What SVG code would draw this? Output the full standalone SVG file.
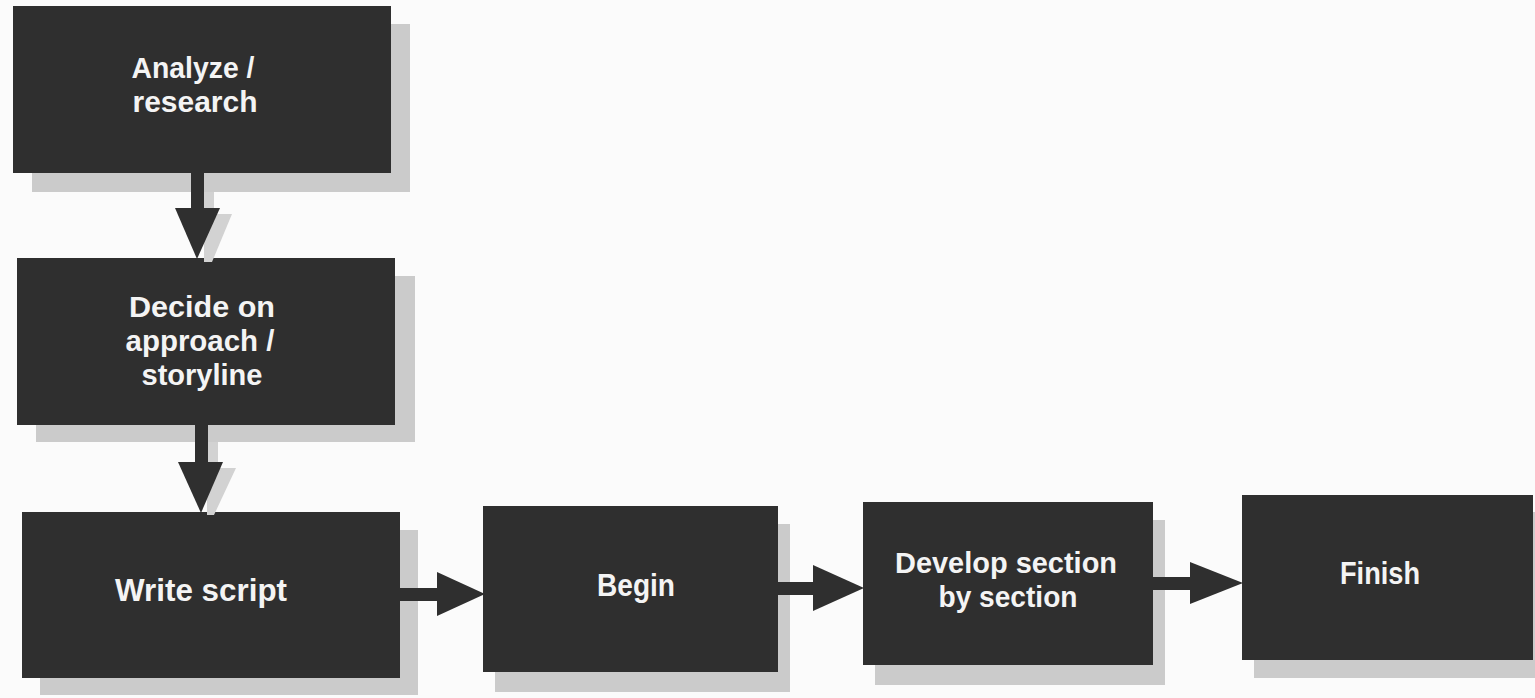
<svg xmlns="http://www.w3.org/2000/svg" width="1535" height="698" viewBox="0 0 1535 698">
  <style>
    .bg { fill: #fbfbfb; }
    .box { fill: #2f2f2f; }
    .shadow { fill: #cbcbcb; }
    .arrow { fill: #2f2f2f; }
    .ashadow { fill: #d2d2d2; }
    .label { fill: #f4f4f4; font-family: "Liberation Sans", Arial, sans-serif; font-weight: bold; font-size: 32px; text-anchor: middle; }
    .multi { font-size: 30px; }
  </style>
  <rect class="bg" x="0" y="0" width="1535" height="698"/>

  <g id="node-analyze">
    <rect class="shadow" x="32" y="24" width="378" height="168"/>
    <rect class="box" x="13" y="6" width="378" height="167"/>
    <text class="label multi" x="193" y="78" textLength="123" lengthAdjust="spacingAndGlyphs">Analyze /</text>
    <text class="label multi" x="195" y="112" textLength="125" lengthAdjust="spacingAndGlyphs">research</text>
  </g>

  <g id="node-decide">
    <rect class="shadow" x="36" y="276" width="379" height="166"/>
    <rect class="box" x="17" y="258" width="378" height="167"/>
    <text class="label multi" x="202" y="317" textLength="146" lengthAdjust="spacingAndGlyphs">Decide on</text>
    <text class="label multi" x="200" y="351" textLength="149" lengthAdjust="spacingAndGlyphs">approach /</text>
    <text class="label multi" x="202" y="385" textLength="121" lengthAdjust="spacingAndGlyphs">storyline</text>
  </g>

  <g id="node-write">
    <rect class="shadow" x="40" y="530" width="378" height="165"/>
    <rect class="box" x="22" y="512" width="378" height="166"/>
    <text class="label" x="201" y="601" textLength="172" lengthAdjust="spacingAndGlyphs">Write script</text>
  </g>

  <g id="node-begin">
    <rect class="shadow" x="495" y="524" width="295" height="168"/>
    <rect class="box" x="483" y="506" width="295" height="166"/>
    <text class="label" x="636" y="596" textLength="78" lengthAdjust="spacingAndGlyphs">Begin</text>
  </g>

  <g id="node-develop">
    <rect class="shadow" x="875" y="520" width="290" height="165"/>
    <rect class="box" x="863" y="502" width="290" height="163"/>
    <text class="label multi" x="1006" y="573" textLength="222" lengthAdjust="spacingAndGlyphs">Develop section</text>
    <text class="label multi" x="1008" y="607" textLength="139" lengthAdjust="spacingAndGlyphs">by section</text>
  </g>

  <g id="node-finish">
    <rect class="shadow" x="1254" y="512" width="281" height="166"/>
    <rect class="box" x="1242" y="495" width="291" height="165"/>
    <text class="label" x="1380" y="584" textLength="80" lengthAdjust="spacingAndGlyphs">Finish</text>
  </g>

  <g id="connectors">
    <!-- arrowhead shadows -->
    <polygon class="ashadow" points="214,192 214,214 232,214 212,262 204,262 204,192"/>
    <polygon class="ashadow" points="218,442 218,468 236,468 214,515 207,515 207,442"/>
    <!-- arrow 1 -->
    <rect class="arrow" x="191" y="172" width="13" height="38"/>
    <polygon class="arrow" points="175,208 220,208 197,259"/>
    <!-- arrow 2 -->
    <rect class="arrow" x="195" y="424" width="13" height="40"/>
    <polygon class="arrow" points="178,462 223,462 201,513"/>
    <!-- arrow 3 -->
    <rect class="arrow" x="399" y="588" width="40" height="13"/>
    <polygon class="arrow" points="437,572 437,616 485,594"/>
    <!-- arrow 4 -->
    <rect class="arrow" x="777" y="582" width="38" height="13"/>
    <polygon class="arrow" points="813,565 813,611 864,588"/>
    <!-- arrow 5 -->
    <rect class="arrow" x="1152" y="577" width="40" height="13"/>
    <polygon class="arrow" points="1190,562 1190,604 1243,583"/>
  </g>
</svg>
